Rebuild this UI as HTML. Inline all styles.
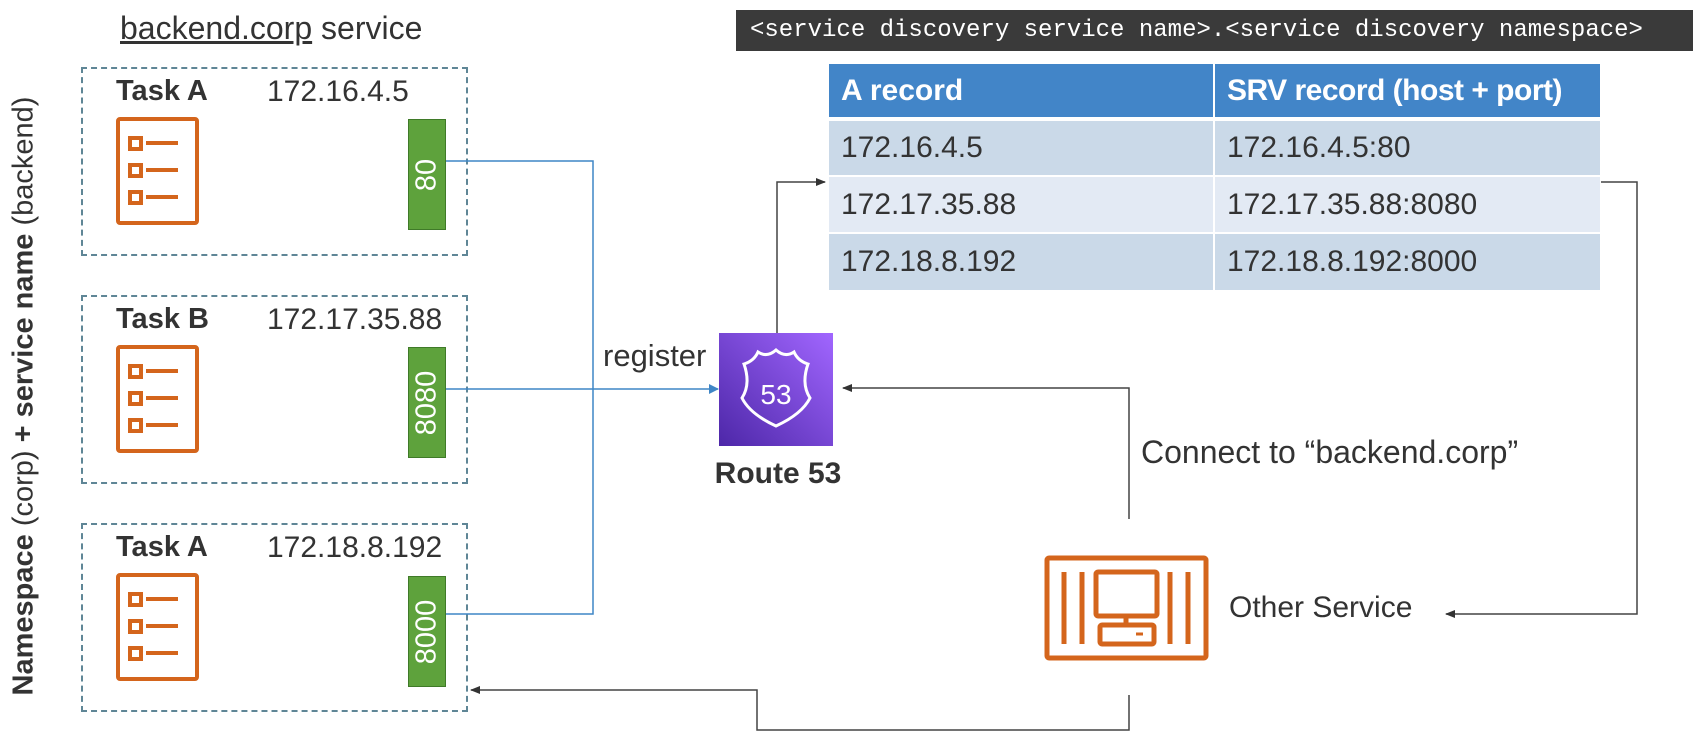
<!DOCTYPE html>
<html><head><meta charset="utf-8"><style>
body{margin:0;width:1702px;height:740px;background:#fff;overflow:hidden;position:relative;font-family:"Liberation Sans",sans-serif;color:#333}
.a{position:absolute;white-space:nowrap}
.box{position:absolute;border:2px dashed #5f8696;box-sizing:border-box}
.port{position:absolute;background:#5ea23c;border:1px solid #3f7a28;box-sizing:border-box}
.port span{position:absolute;left:50%;top:50%;transform:translate(-50%,-50%) rotate(-90deg);color:#fff;font-size:29px}
table{border-collapse:collapse;table-layout:fixed}
td{box-sizing:border-box;overflow:hidden}
</style></head><body>
<div class="a" style="left:120px;top:10px;font-size:32px"><u>backend.corp</u> service</div>
<div class="a" style="left:24px;top:396px;transform:translate(-50%,-50%) rotate(-90deg);font-size:29px"><b>Namespace</b> (corp) <b>+ service name</b> (backend)</div>

<div class="box" style="left:81px;top:67px;width:387px;height:189px"></div>
<div class="box" style="left:81px;top:295px;width:387px;height:189px"></div>
<div class="box" style="left:81px;top:523px;width:387px;height:189px"></div>

<div class="a" style="left:116px;top:75px;font-size:29px;font-weight:bold">Task A</div>
<div class="a" style="left:267px;top:75px;font-size:30px">172.16.4.5</div>
<div class="a" style="left:116px;top:303px;font-size:29px;font-weight:bold">Task B</div>
<div class="a" style="left:267px;top:303px;font-size:30px">172.17.35.88</div>
<div class="a" style="left:116px;top:531px;font-size:29px;font-weight:bold">Task A</div>
<div class="a" style="left:267px;top:531px;font-size:30px">172.18.8.192</div>

<div class="port" style="left:408px;top:119px;width:38px;height:111px"><span>80</span></div>
<div class="port" style="left:408px;top:347px;width:38px;height:111px"><span>8080</span></div>
<div class="port" style="left:408px;top:576px;width:38px;height:111px"><span>8000</span></div>

<svg class="a" style="left:0;top:0" width="1702" height="740">
<defs>
<marker id="ab" markerWidth="10" markerHeight="10" refX="9" refY="5" orient="auto" markerUnits="userSpaceOnUse"><path d="M0,0L10,5L0,10z" fill="#3f86c6"/></marker>
<marker id="ag" markerWidth="10" markerHeight="10" refX="9" refY="5" orient="auto" markerUnits="userSpaceOnUse"><path d="M0,1L10,5L0,9z" fill="#333"/></marker>
<linearGradient id="pg" x1="0" y1="1" x2="1" y2="0"><stop offset="0" stop-color="#4d27a8"/><stop offset="1" stop-color="#a166ff"/></linearGradient>
<g id="task" fill="none" stroke="#d4651c" stroke-width="4">
<rect x="2" y="2" width="79" height="104" rx="2"/>
<rect x="14" y="21" width="11" height="11"/><line x1="30" y1="26" x2="62" y2="26"/>
<rect x="14" y="48" width="11" height="11"/><line x1="30" y1="53" x2="62" y2="53"/>
<rect x="14" y="75" width="11" height="11"/><line x1="30" y1="80" x2="62" y2="80"/>
</g>
</defs>
<use href="#task" x="116" y="117"/>
<use href="#task" x="116" y="345"/>
<use href="#task" x="116" y="573"/>
<g stroke="#3f86c6" stroke-width="1.5" fill="none">
<polyline points="446,161 593,161 593,614 446,614"/>
<line x1="446" y1="389" x2="718" y2="389" marker-end="url(#ab)"/>
</g>
<g stroke="#444" stroke-width="1.5" fill="none">
<polyline points="777,333 777,182 825,182" marker-end="url(#ag)"/>
<polyline points="1601,182 1637,182 1637,614 1446,614" marker-end="url(#ag)"/>
<polyline points="1129,519 1129,388 843,388" marker-end="url(#ag)"/>
<polyline points="1129,695 1129,730 757,730 757,690 471,690" marker-end="url(#ag)"/>
</g>
<rect x="719" y="333" width="114" height="113" fill="url(#pg)"/>
<g fill="none" stroke="#fff" stroke-width="3">
<path d="M744,364 q10,-3 14,-12 q9,6 18,-2 q9,8 18,2 q4,9 14,12 q-7,20 2,34 q-8,16 -34,28 q-26,-12 -34,-28 q9,-14 2,-34z"/>
</g>
<text x="776" y="404" fill="#fff" font-size="28" text-anchor="middle" font-family="Liberation Sans">53</text>
<g fill="none" stroke="#d4651c" stroke-width="5">
<rect x="1047" y="558" width="159" height="100" rx="2"/>
<line x1="1064" y1="572" x2="1064" y2="644"/><line x1="1082" y1="572" x2="1082" y2="644"/>
<line x1="1170" y1="572" x2="1170" y2="644"/><line x1="1188" y1="572" x2="1188" y2="644"/>
<rect x="1096" y="572" width="61" height="44" rx="2"/>
<line x1="1126" y1="616" x2="1126" y2="625"/>
<rect x="1100" y="625" width="54" height="19" rx="2"/>
</g>
<line x1="1136" y1="634" x2="1143" y2="634" stroke="#d4651c" stroke-width="3"/>
</svg>

<div class="a" style="left:603px;top:338px;font-size:31px">register</div>
<div class="a" style="left:778px;top:457px;transform:translateX(-50%);font-size:30px;font-weight:bold">Route 53</div>
<div class="a" style="left:1141px;top:434px;font-size:32px">Connect to “backend.corp”</div>
<div class="a" style="left:1229px;top:591px;font-size:30px">Other Service</div>

<div class="a" style="left:736px;top:10px;width:957px;height:41px;background:#3a3a3a;color:#fff;font-family:'Liberation Mono',monospace;font-size:24px;line-height:41px;padding-left:14px;box-sizing:border-box">&lt;service discovery service name&gt;.&lt;service discovery namespace&gt;</div>

<table class="a" style="left:829px;top:64px;width:771px;font-size:30px">
<tr style="background:#4285c8;color:#fff;font-weight:bold;height:55px"><td style="width:385px;padding-left:12px;border-right:2px solid #fff">A record</td><td style="padding-left:12px;letter-spacing:-0.5px">SRV record (host + port)</td></tr>
<tr style="background:#cad9e8;height:57px;border-top:4px solid #fff"><td style="padding-left:12px;border-right:2px solid #fff">172.16.4.5</td><td style="padding-left:12px">172.16.4.5:80</td></tr>
<tr style="background:#e3eaf4;height:57px;border-top:2px solid #fff"><td style="padding-left:12px;border-right:2px solid #fff">172.17.35.88</td><td style="padding-left:12px">172.17.35.88:8080</td></tr>
<tr style="background:#cad9e8;height:57px;border-top:2px solid #fff"><td style="padding-left:12px;border-right:2px solid #fff">172.18.8.192</td><td style="padding-left:12px">172.18.8.192:8000</td></tr>
</table>
</body></html>
